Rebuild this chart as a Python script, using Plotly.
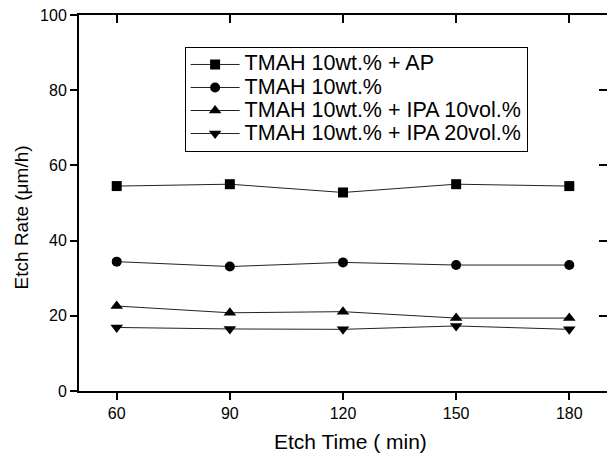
import plotly.graph_objects as go

etch_time = [60, 90, 120, 150, 180]
ap = [54.5, 55.0, 52.8, 55.0, 54.5]
tmah = [34.4, 33.1, 34.2, 33.5, 33.5]
ipa10 = [22.6, 20.8, 21.1, 19.4, 19.4]
ipa20 = [16.9, 16.5, 16.4, 17.3, 16.4]
x_ticks = [60, 90, 120, 150, 180]
y_ticks = [0, 20, 40, 60, 80, 100]

series = [
    ("TMAH 10wt.% + AP", ap, "square", 10),
    ("TMAH 10wt.%", tmah, "circle", 10),
    ("TMAH 10wt.% + IPA 10vol.%", ipa10, "triangle-up", 11),
    ("TMAH 10wt.% + IPA 20vol.%", ipa20, "triangle-down", 11),
]

FONT = "Liberation Sans, Arial, sans-serif"

fig = go.Figure()
for name, vals, sym, sz in series:
    fig.add_trace(go.Scatter(
        x=etch_time, y=vals, name='<span style="font-size:21.5px">' + name + '</span>',
        mode="lines+markers",
        line=dict(color="#222222", width=1),
        marker=dict(symbol=sym, size=sz, color="black"),
    ))

# helper trace for the mirrored (inside-tick) axes
fig.add_trace(go.Scatter(x=[None], y=[None], xaxis="x2", yaxis="y2",
                         showlegend=False, hoverinfo="skip"))

axis_common = dict(showgrid=False, zeroline=False, showline=True,
                   linecolor="black", linewidth=2, tickcolor="black",
                   tickwidth=2, ticklen=7)

fig.update_layout(
    width=608, height=454,
    margin=dict(l=79, r=1, t=15, b=63),
    paper_bgcolor="white", plot_bgcolor="white",
    font=dict(family=FONT, color="black", size=16),
    xaxis=dict(range=[50, 190], tickvals=x_ticks, ticks="outside",
               tickfont=dict(size=16), **axis_common),
    yaxis=dict(range=[0, 100], tickvals=y_ticks, ticks="outside",
               tickfont=dict(size=16), **axis_common),
    xaxis2=dict(range=[50, 190], tickvals=x_ticks, ticks="inside", side="top",
                overlaying="x", showticklabels=False, **{**axis_common, "ticklen": 8}),
    yaxis2=dict(range=[0, 100], tickvals=y_ticks, ticks="inside", side="right",
                overlaying="y", showticklabels=False,
                **{**axis_common, "ticklen": 8, "showline": False}),
    legend=dict(x=0.2, y=0.915, xanchor="left", yanchor="top",
                bordercolor="black", borderwidth=1, bgcolor="white",
                font=dict(size=15.4, family=FONT), tracegroupgap=0,
                itemwidth=49),
    showlegend=True,
    annotations=[
        dict(text="Etch Time ( min)", xref="paper", yref="paper",
             x=0.515, y=-0.133, xanchor="center", yanchor="middle",
             showarrow=False, font=dict(size=21)),
        dict(text="Etch Rate (\u03bcm/h)", xref="paper", yref="paper",
             x=-0.1096, y=0.462, xanchor="center", yanchor="middle",
             textangle=-90, showarrow=False, font=dict(size=19)),
    ],
)

fig.write_html("out.html")
